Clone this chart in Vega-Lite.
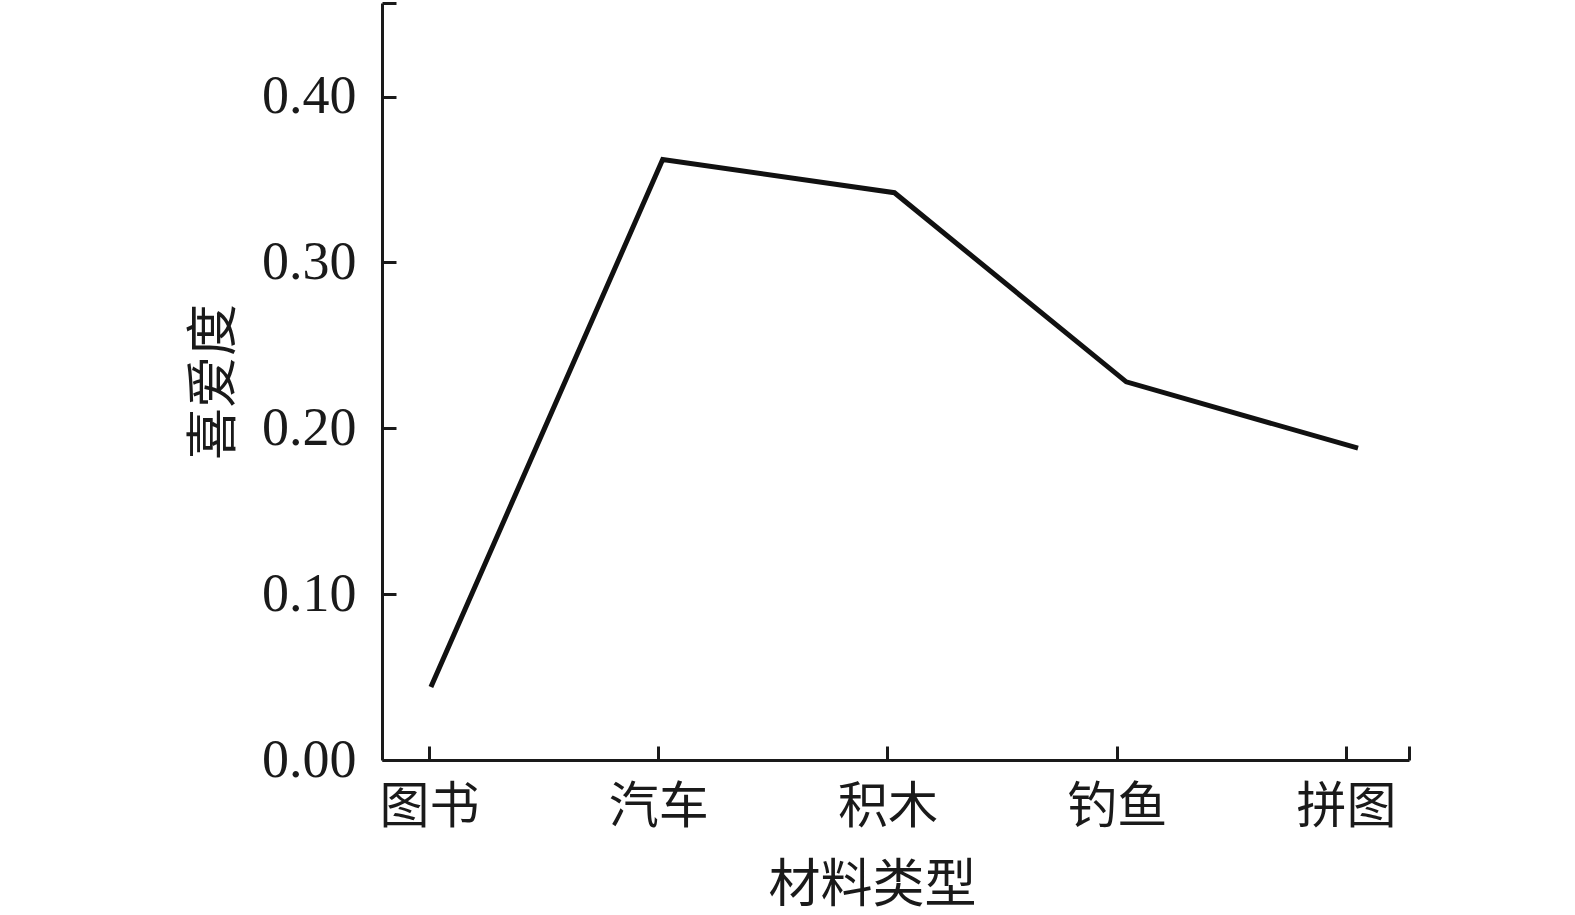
{
  "$schema": "https://vega.github.io/schema/vega-lite/v6.json",
  "autosize": {"type": "none"},
  "width": 1027,
  "height": 757,
  "padding": {"left": 382, "top": 3, "right": 166, "bottom": 155},
  "background": "white",
  "config": {
    "view": {"stroke": null},
    "font": "Liberation Serif",
    "axis": {
      "labelFont": "Liberation Serif, Noto Sans CJK SC",
      "titleFont": "Liberation Serif, Noto Sans CJK SC",
      "labelFontSize": 50,
      "titleFontSize": 52,
      "labelColor": "#1a1a1a",
      "titleColor": "#1a1a1a",
      "titleFontWeight": "normal",
      "domainColor": "#1a1a1a",
      "tickColor": "#1a1a1a",
      "domainWidth": 3,
      "tickWidth": 3,
      "grid": false
    }
  },
  "data": {
    "values": [
      {"序号": 1, "材料类型": "图书", "喜爱度": 0.044},
      {"序号": 2, "材料类型": "汽车", "喜爱度": 0.362},
      {"序号": 3, "材料类型": "积木", "喜爱度": 0.342},
      {"序号": 4, "材料类型": "钓鱼", "喜爱度": 0.228},
      {"序号": 5, "材料类型": "拼图", "喜爱度": 0.188}
    ]
  },
  "layer": [
    {
      "mark": {"type": "point", "opacity": 0},
      "encoding": {
        "x": {
          "field": "序号", "type": "quantitative",
          "scale": {"domain": [0.795, 5.275], "nice": false, "zero": false},
          "axis": {
            "title": "材料类型",
            "values": [1, 2, 3, 4, 5, 5.275],
            "labelExpr": "datum.value == 1 ? '图书' : datum.value == 2 ? '汽车' : datum.value == 3 ? '积木' : datum.value == 4 ? '钓鱼' : datum.value == 5 ? '拼图' : ''",
            "tickSize": -14,
            "labelPadding": 36,
            "labelFlush": false,
            "labelOverlap": false,
            "titlePadding": 28,
            "titleX": 490
          }
        },
        "y": {
          "field": "喜爱度", "type": "quantitative",
          "scale": {"domain": [0, 0.4564], "nice": false},
          "axis": {
            "title": "喜爱度",
            "values": [0, 0.1, 0.2, 0.3, 0.4, 0.4564],
            "labelExpr": "datum.value > 0.45 ? '' : format(datum.value, '.2f')",
            "labelFontSize": 54,
            "tickSize": -14,
            "labelPadding": 40,
            "labelFlush": false,
            "labelOverlap": false,
            "titlePadding": 20
          }
        }
      }
    },
    {
      "mark": {"type": "line", "color": "#111111", "strokeWidth": 5, "strokeJoin": "miter", "strokeCap": "butt"},
      "encoding": {
        "x": {
          "field": "序号", "type": "quantitative",
          "scale": {"domain": [0.789, 5.22], "nice": false, "zero": false},
          "axis": null
        },
        "y": {"field": "喜爱度", "type": "quantitative"}
      }
    }
  ],
  "resolve": {"scale": {"x": "independent"}}
}
